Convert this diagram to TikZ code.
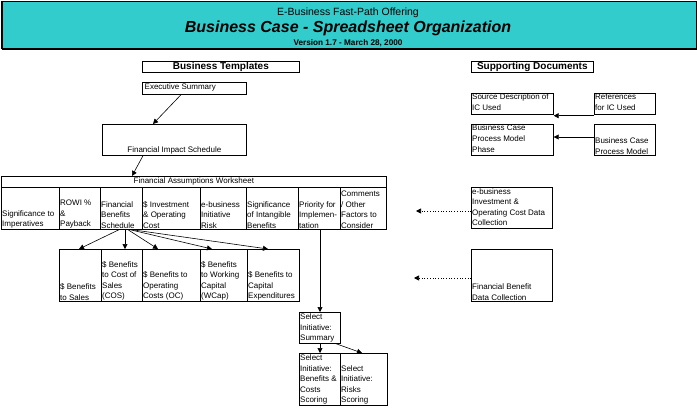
\documentclass[tikz,border=0pt]{standalone}
\usepackage{fontspec}
\setmainfont{Liberation Sans}
\usetikzlibrary{arrows.meta}
\definecolor{teal1}{RGB}{51,204,204}
\newcommand\mkbox[6][]{\node[box,#1,minimum width={#5-#3},minimum height={#6-#4}] (#2) at (#3,#4) {};}
\tikzset{
  box/.style={draw,line width=0.7pt,inner sep=0pt,anchor=north west},
  txt/.style={font=\fontsize{8}{10.5}\selectfont,align=left,inner sep=1pt},
  bl/.style={txt,anchor=south west},
  tl/.style={txt,anchor=north west},
  hd/.style={font=\fontsize{10}{11}\selectfont\bfseries,inner sep=0pt},
  arr/.style={line width=0.6pt,-{Triangle[length=5pt,width=5pt]}},
  darr/.style={line width=0.7pt,dotted,-{Triangle[length=5pt,width=5pt]}}
}
\begin{document}
\begin{tikzpicture}[x=1pt,y=-1pt]
\useasboundingbox (0,0) rectangle (697,418);
% header
\node[draw,fill=teal1,line width=1.2pt,minimum width=694,minimum height=47,inner sep=0pt,anchor=north west] (hdr) at (1.5,1) {};
\draw[line width=2.5pt] (hdr.south west) -- (hdr.south east);
\node[font=\fontsize{10.5}{12}\selectfont,inner sep=0pt] (t1) at (348,13) {E-Business Fast-Path Offering};
\node[font=\fontsize{16}{18}\selectfont\bfseries\itshape,inner sep=0pt] (t2) at (348,28) {Business Case - Spreadsheet Organization};
\node[font=\fontsize{8.2}{9}\selectfont\bfseries,inner sep=0pt] (t3) at (348,43) {Version 1.7 - March 28, 2000};
% section headers
\mkbox{bt}{142}{61}{299}{72}
\node[hd] (btt) at (bt.center) {Business Templates};
\mkbox{sd}{471}{61}{593}{72}
\node[hd] (sdt) at (sd.center) {Supporting Documents};
% executive summary and FIS
\mkbox{es}{142}{82}{246}{94}
\node[tl] (est) at ([xshift=1.5pt,yshift=-0.5pt]es.north west) {Executive Summary};
\mkbox{fis}{102}{124}{246}{155}
\node[txt,anchor=south] (fist) at (fis.south) {Financial Impact Schedule};
% FAW
\mkbox{faw}{1}{176}{386}{187}
\node[txt] (fawt) at (faw.center) {Financial Assumptions Worksheet};
\mkbox{c1}{1}{187}{59}{229}
\mkbox{c2}{59}{187}{100}{229}
\mkbox{c3}{100}{187}{142}{229}
\mkbox{c4}{142}{187}{200}{229}
\mkbox{c5}{200}{187}{246}{229}
\mkbox{c6}{246}{187}{298}{229}
\mkbox{c7}{298}{187}{340}{229}
\mkbox{c8}{340}{187}{386}{229}
\node[bl] (c1t) at (c1.south west) {Significance to\\Imperatives};
\node[bl] (c2t) at (c2.south west) {ROWI \%\\\&\\Payback};
\node[bl] (c3t) at (c3.south west) {Financial\\Benefits\\Schedule};
\node[bl] (c4t) at (c4.south west) {\$ Investment\\\& Operating\\Cost};
\node[bl] (c5t) at (c5.south west) {e-business\\Initiative\\Risk};
\node[bl] (c6t) at (c6.south west) {Significance\\of Intangible\\Benefits};
\node[bl] (c7t) at (c7.south west) {Priority for\\Implemen-\\tation};
\node[bl] (c8t) at (c8.south west) {Comments\\/ Other\\Factors to\\Consider};
% benefits
\mkbox{b1}{59}{249}{101}{301}
\mkbox{b2}{101}{249}{142}{301}
\mkbox{b3}{142}{249}{200}{301}
\mkbox{b4}{200}{249}{247}{301}
\mkbox{b5}{247}{249}{299}{301}
\node[bl] (b1t) at (b1.south west) {\$ Benefits\\to Sales};
\node[bl] (b2t) at (b2.south west) {\$ Benefits\\to Cost of\\Sales\\(COS)};
\node[bl] (b3t) at (b3.south west) {\$ Benefits to\\Operating\\Costs (OC)};
\node[bl] (b4t) at (b4.south west) {\$ Benefits\\to Working\\Capital\\(WCap)};
\node[bl] (b5t) at (b5.south west) {\$ Benefits to\\Capital\\Expenditures};
% select initiative
\mkbox{s1}{299}{312}{340}{343}
\node[bl] (s1t) at (s1.south west) {Select\\Initiative:\\Summary};
\mkbox{s2}{299}{353}{340}{405}
\mkbox{s3}{340}{353}{387}{405}
\node[bl] (s2t) at (s2.south west) {Select\\Initiative:\\Benefits \&\\Costs\\Scoring};
\node[bl] (s3t) at (s3.south west) {Select\\Initiative:\\Risks\\Scoring};
% supporting documents
\mkbox{src}{471}{93}{553}{114}
\node[tl] (srct) at (src.north west) {Source Description of\\IC Used};
\mkbox{ref}{594}{93}{655}{114}
\node[tl] (reft) at (ref.north west) {References\\for IC Used};
\mkbox{bcp}{471}{124}{553}{155}
\node[tl] (bcpt) at (bcp.north west) {Business Case\\Process Model\\Phase};
\mkbox{bcm}{594}{124}{655}{155}
\node[bl] (bcmt) at (bcm.south west) {Business Case\\Process Model};
\mkbox{ebi}{471}{187}{552}{228}
\node[tl] (ebit) at (ebi.north west) {e-business\\Investment \&\\Operating Cost Data\\Collection};
\mkbox{fb}{471}{249}{552}{301}
\node[bl] (fbt) at (fb.south west) {Financial Benefit\\Data Collection};
% connectors
\draw[arr] ([xshift=39pt]es.south west) -- ([xshift=51pt]fis.north west);
\draw[arr] ([xshift=41pt]fis.south west) -- ([xshift=131pt]faw.north west);
\draw[arr] ([xshift=19pt]c3.south west) -- ([xshift=20pt]b1.north west);
\draw[arr] ([xshift=25pt]c3.south west) -- ([xshift=24pt]b2.north west);
\draw[arr] ([xshift=28pt]c3.south west) -- ([xshift=16pt]b3.north west);
\draw[arr] ([xshift=30pt]c3.south west) -- ([xshift=12pt]b4.north west);
\draw[arr] ([xshift=32pt]c3.south west) -- ([xshift=21pt]b5.north west);
\draw[arr] ([xshift=22pt]c7.south west) -- ([xshift=21pt]s1.north west);
\draw[arr] ([xshift=21pt]s1.south west) -- ([xshift=21pt]s2.north west);
\draw[arr] ([xshift=37pt]s1.south west) -- ([xshift=22pt]s3.north west);
\draw[arr] ([yshift=-1pt]ref.south west) -- ([yshift=-1pt]src.south east);
\draw[arr] ([yshift=-13pt]bcm.north west) -- ([yshift=-13pt]bcp.north east);
\coordinate (e1) at (416,211);
\coordinate (e2) at (414,278);
\draw[darr] ([yshift=-24pt]ebi.north west) -- (e1);
\draw[darr] ([yshift=-29pt]fb.north west) -- (e2);
\end{tikzpicture}
\end{document}
